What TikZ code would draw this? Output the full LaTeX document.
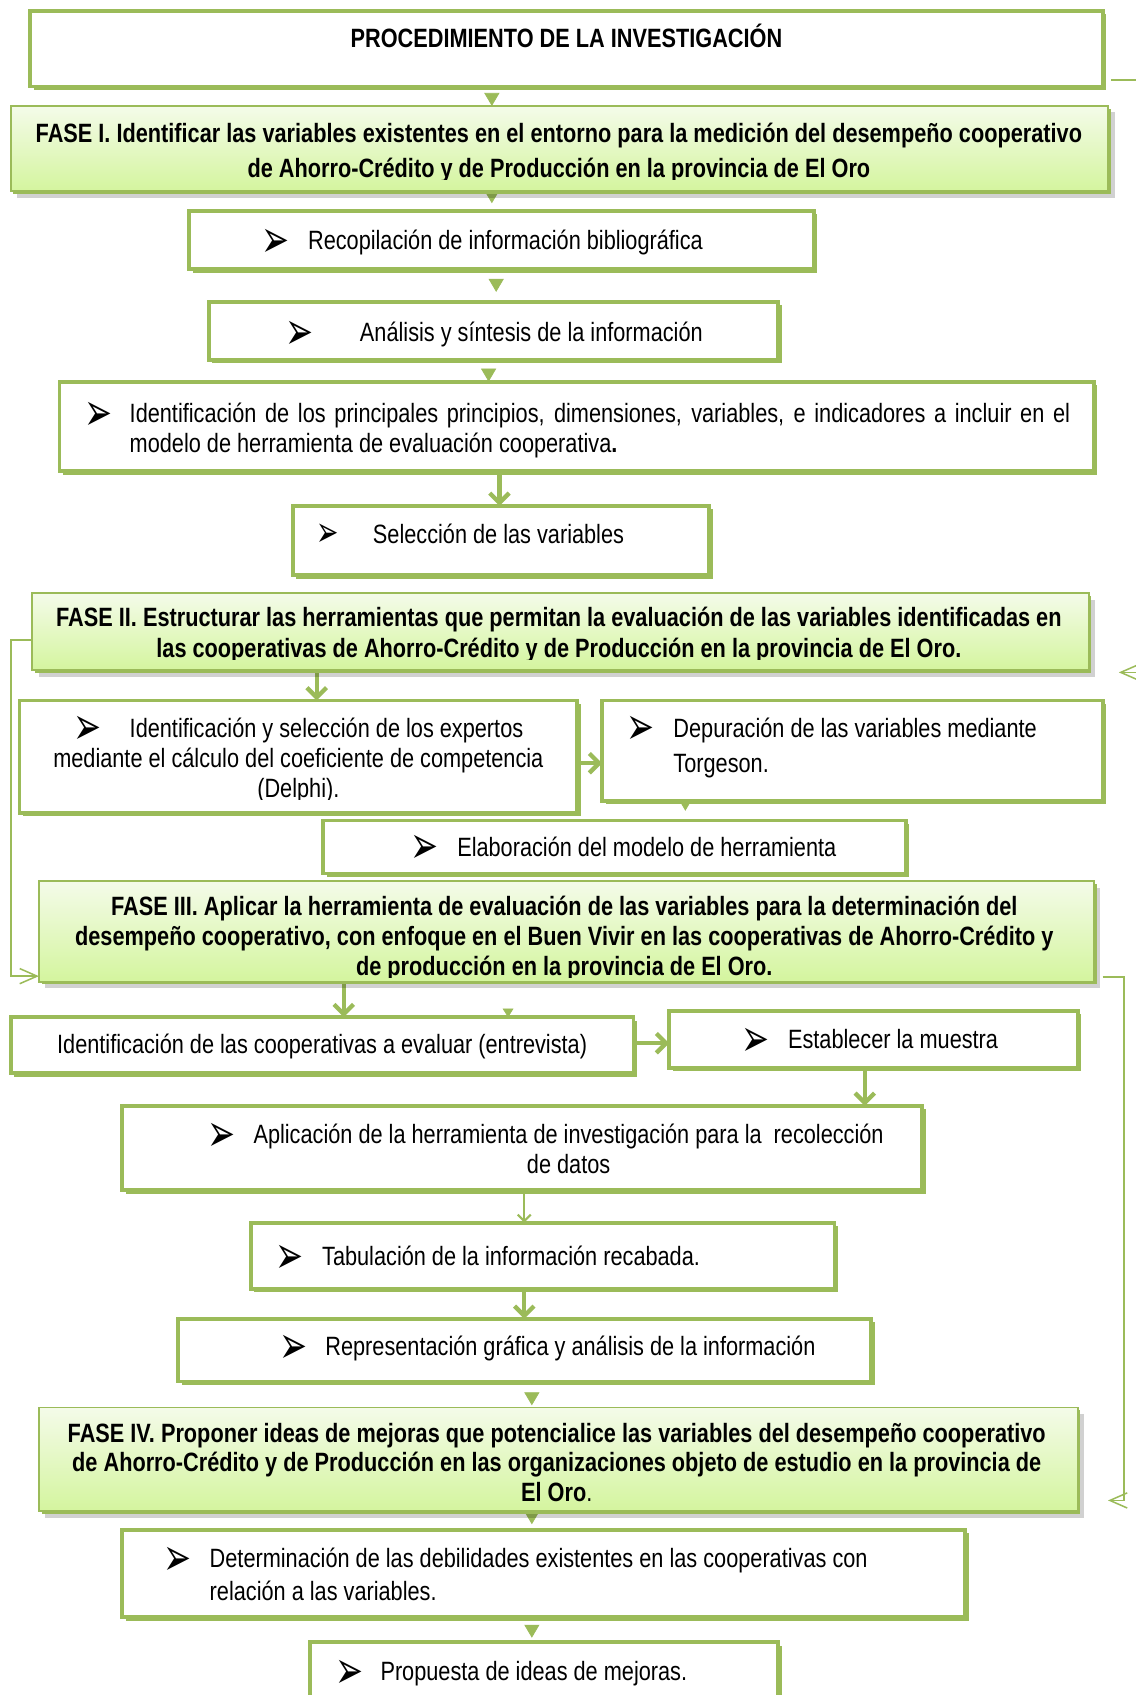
\documentclass[tikz,border=0pt]{standalone}
\usepackage{fontspec}
\setmainfont{Liberation Sans}[FakeStretch=0.82]
\newfontfamily\symf{DejaVu Sans}
\usetikzlibrary{arrows.meta,shadows,backgrounds}
\definecolor{gr}{HTML}{9BBB59}
\definecolor{fTop}{HTML}{F4FBE9}
\definecolor{fBot}{HTML}{D4F59E}
\newcommand\blt{\raisebox{-3.5pt}[6pt][0pt]{\scalebox{1.55}[2.45]{\symf\fontsize{10}{12}\selectfont ➢}}}
\newcommand\bx[6]{\node[#1, anchor=north west, minimum width={(#5-#3)*0.5pt}, minimum height={(#6-#4)*0.5pt}] (#2) at (#3,#4) {};}
\begin{document}
\begin{tikzpicture}[x=0.5pt,y=-0.5pt,
 wbox/.style={draw=gr, line width=1.8pt, fill=white, inner sep=0pt, outer sep=0pt,
   drop shadow={shadow xshift=1.6pt, shadow yshift=-1.6pt, fill=gr, opacity=1}},
 fbox/.style={draw=gr, line width=0.9pt, top color=fTop, bottom color=fBot, inner sep=0pt, outer sep=0pt,
   drop shadow={shadow xshift=3pt, shadow yshift=-3pt, fill=black, opacity=0.18},
   drop shadow={shadow xshift=1.2pt, shadow yshift=-1.2pt, fill=gr, opacity=1}},
 txt/.style={inner sep=0pt, outer sep=0pt, font=\fontsize{12.25}{14}\selectfont},
 btxt/.style={inner sep=0pt, outer sep=0pt, font=\fontsize{12.25}{14}\selectfont\bfseries},
 bul/.style={inner sep=0pt, outer sep=0pt, anchor=base west},
 tri/.style={draw=white, line width=0.3pt, -{Triangle[width=7pt,length=6pt,color=gr]}},
 thk/.style={draw=gr, line width=2pt, -{Straight Barb[length=4.5pt,width=9pt]}},
 thn/.style={draw=gr, line width=0.7pt, -{Straight Barb[length=8pt,width=7pt]}},
]
\useasboundingbox (0,0) rectangle (1050,1568);
% boxes
\bx{wbox}{title}{28}{10}{1020}{80}
\bx{fbox}{fase1}{10}{98}{1025}{177}
\bx{wbox}{rec}{175}{195}{753}{249}
\bx{wbox}{ana}{193}{279}{720}{333}
\bx{wbox}{prin}{55}{353}{1012}{436}
\bx{wbox}{sel}{271}{468}{656}{532}
\bx{fbox}{fase2}{30}{549}{1007}{620}
\bx{wbox}{exp}{18}{648}{534}{752}
\bx{wbox}{dep}{557}{648}{1020}{741}
\bx{wbox}{elab}{299}{759}{838}{808}
\bx{fbox}{fase3}{36}{815}{1012}{908}
\bx{wbox}{coop}{10}{941}{586}{993}
\bx{wbox}{mue}{619}{935}{997}{988}
\bx{wbox}{apl}{113}{1023}{853}{1101}
\bx{wbox}{tab}{232}{1131}{772}{1192}
\bx{wbox}{rep}{165}{1220}{806}{1278}
\bx{fbox}{fase4}{36}{1302}{997}{1398}
\bx{wbox}{det}{113}{1415}{893}{1496}
\bx{wbox}{prop}{287}{1519}{720}{1590}
% helper coordinates
\coordinate (x293) at (293,0); \coordinate (x318) at (318,0);
\coordinate (x452) at (452,0); \coordinate (x455) at (455,0);
\coordinate (x459) at (459,0); \coordinate (x462) at (462,0);
\coordinate (x470) at (470,0); \coordinate (x485) at (485,0);
\coordinate (x492) at (492,0); \coordinate (x634) at (634,0);
\coordinate (x800) at (800,0);
\coordinate (y74) at (0,74); \coordinate (y592) at (0,592);
\coordinate (y622) at (0,622); \coordinate (y706) at (0,706);
\coordinate (y903) at (0,903); \coordinate (y904) at (0,904);
\coordinate (y965) at (0,965); \coordinate (y1388) at (0,1388);
% connectors
\begin{scope}[on background layer]
\fill[white] (0,0) rectangle (1050,1568);
\draw[tri] (title.south -| x455) -- (fase1.north -| x455);
\draw[tri, shorten >=3.5pt] (fase1.south -| x455) -- (rec.north -| x455);
\draw[tri, shorten >=4.5pt] (rec.south -| x459) -- (ana.north -| x459);
\draw[tri] (ana.south -| x452) -- (prin.north -| x452);
\draw[thk] (prin.south -| x462) -- (sel.north -| x462);
\draw[thk] (fase2.south -| x293) -- (exp.north -| x293);
\draw[thk] (exp.east |- y706) -- (dep.west |- y706);
\draw[tri, shorten >=4.5pt] (dep.south -| x634) -- (elab.north -| x634);
\draw[thn] (fase2.west |- y592) -- ++(-10pt,0) |- (fase3.west |- y903);
\draw[thn, shorten <=4pt, shorten >=14pt] (title.east |- y74) -- ++(35pt,0) |- (fase2.east |- y622);
\draw[thn, shorten <=4pt, shorten >=14pt] (fase3.east |- y904) -- ++(14pt,0) |- (fase4.east |- y1388);
\draw[thk] (fase3.south -| x318) -- (coop.north -| x318);
\draw[draw=white, line width=0.3pt, -{Triangle[width=5pt,length=4pt,color=gr]}] (fase3.south -| x470) -- (coop.north -| x470);
\draw[thk] (coop.east |- y965) -- (mue.west |- y965);
\draw[thk] (mue.south -| x800) -- (apl.north -| x800);
\draw[draw=gr, line width=1pt, -{Straight Barb[length=3pt,width=6pt]}] (apl.south -| x485) -- (tab.north -| x485);
\draw[thk] (tab.south -| x485) -- (rep.north -| x485);
\draw[tri, shorten >=1pt] (rep.south -| x492) -- (fase4.north -| x492);
\draw[tri, shorten >=2.5pt] (fase4.south -| x492) -- (det.north -| x492);
\draw[tri, shorten >=2pt] (det.south -| x492) -- (prop.north -| x492);
\end{scope}
% texts
\node[btxt, anchor=base] (title-t) at (524,44) {PROCEDIMIENTO DE LA INVESTIGACIÓN};
\node[btxt, anchor=base] (f1a) at (517,132) {FASE I. Identificar las variables existentes en el entorno para la medición del desempeño cooperativo};
\begin{scope}\clip (0,0) rectangle (1050,166);
\node[btxt, anchor=base] (f1b) at (517,164) {de Ahorro-Crédito y de Producción en la provincia de El Oro};
\end{scope}
\node[bul] (rec-b) at (242,231) {\blt};
\node[txt, anchor=base west] (rec-t) at (285,231) {Recopilación de información bibliográfica};
\node[bul] (ana-b) at (264,316) {\blt};
\node[txt, anchor=base west] (ana-t) at (333,316) {Análisis y síntesis de la información};
\node[bul] (prin-b) at (78,391) {\blt};
\node[txt, anchor=base west] (prin-t1) at (120,391) {\makebox[435pt][s]{Identificación de los principales principios, dimensiones, variables, e indicadores a incluir en el}};
\node[txt, anchor=base west] (prin-t2) at (120,419) {modelo de herramienta de evaluación cooperativa\textbf{.}};
\node[bul] (sel-b) at (293,500) {\scalebox{0.8}{\blt}};
\node[txt, anchor=base west] (sel-t) at (345,503) {Selección de las variables};
\node[btxt, anchor=base] (f2a) at (517,580) {FASE II. Estructurar las herramientas que permitan la evaluación de las variables identificadas en};
\begin{scope}\clip (0,0) rectangle (1050,610);
\node[btxt, anchor=base] (f2b) at (517,608) {las cooperativas de Ahorro-Crédito y de Producción en la provincia de El Oro.};
\end{scope}
\node[bul] (exp-b) at (68,682) {\blt};
\node[txt, anchor=base west] (exp-t1) at (120,682) {Identificación y selección de los expertos};
\node[txt, anchor=base] (exp-t2) at (276,710) {mediante el cálculo del coeficiente de competencia};
\begin{scope}\clip (0,0) rectangle (1050,740);
\node[txt, anchor=base] (exp-t3) at (276,738) {(Delphi).};
\end{scope}
\node[bul] (dep-b) at (580,682) {\blt};
\node[txt, anchor=base west] (dep-t1) at (623,682) {Depuración de las variables mediante};
\node[txt, anchor=base west] (dep-t2) at (623,715) {Torgeson.};
\node[bul] (elab-b) at (380,792) {\blt};
\node[txt, anchor=base west] (elab-t) at (423,792) {Elaboración del modelo de herramienta};
\node[btxt, anchor=base] (f3a) at (522,847) {FASE III. Aplicar la herramienta de evaluación de las variables para la determinación del};
\node[btxt, anchor=base] (f3b) at (522,875) {desempeño cooperativo, con enfoque en el Buen Vivir en las cooperativas de Ahorro-Crédito y};
\begin{scope}\clip (0,0) rectangle (1050,904);
\node[btxt, anchor=base] (f3c) at (522,902) {de producción en la provincia de El Oro.};
\end{scope}
\node[txt, anchor=base] (coop-t) at (298,975) {Identificación de las cooperativas a evaluar (entrevista)};
\node[bul] (mue-b) at (686,970) {\blt};
\node[txt, anchor=base west] (mue-t) at (729,970) {Establecer la muestra};
\node[bul] (apl-b) at (192,1058) {\blt};
\node[txt, anchor=base] (apl-t1) at (526,1058) {Aplicación de la herramienta de investigación para la\ \ recolección};
\node[txt, anchor=base] (apl-t2) at (526,1086) {de datos};
\node[bul] (tab-b) at (255,1171) {\blt};
\node[txt, anchor=base west] (tab-t) at (298,1171) {Tabulación de la información recabada.};
\node[bul] (rep-b) at (259,1254) {\blt};
\node[txt, anchor=base west] (rep-t) at (301,1254) {Representación gráfica y análisis de la información};
\node[btxt, anchor=base] (f4a) at (515,1334) {FASE IV. Proponer ideas de mejoras que potencialice las variables del desempeño cooperativo};
\node[btxt, anchor=base] (f4b) at (515,1361) {de Ahorro-Crédito y de Producción en las organizaciones objeto de estudio en la provincia de};
\node[btxt, anchor=base] (f4c) at (515,1389) {El Oro{\mdseries .}};
\node[bul] (det-b) at (151,1450) {\blt};
\node[txt, anchor=base west] (det-t1) at (194,1450) {Determinación de las debilidades existentes en las cooperativas con};
\node[txt, anchor=base west] (det-t2) at (194,1481) {relación a las variables.};
\node[bul] (prop-b) at (310,1555) {\blt};
\node[txt, anchor=base west] (prop-t) at (352,1555) {Propuesta de ideas de mejoras.};
\end{tikzpicture}
\end{document}
